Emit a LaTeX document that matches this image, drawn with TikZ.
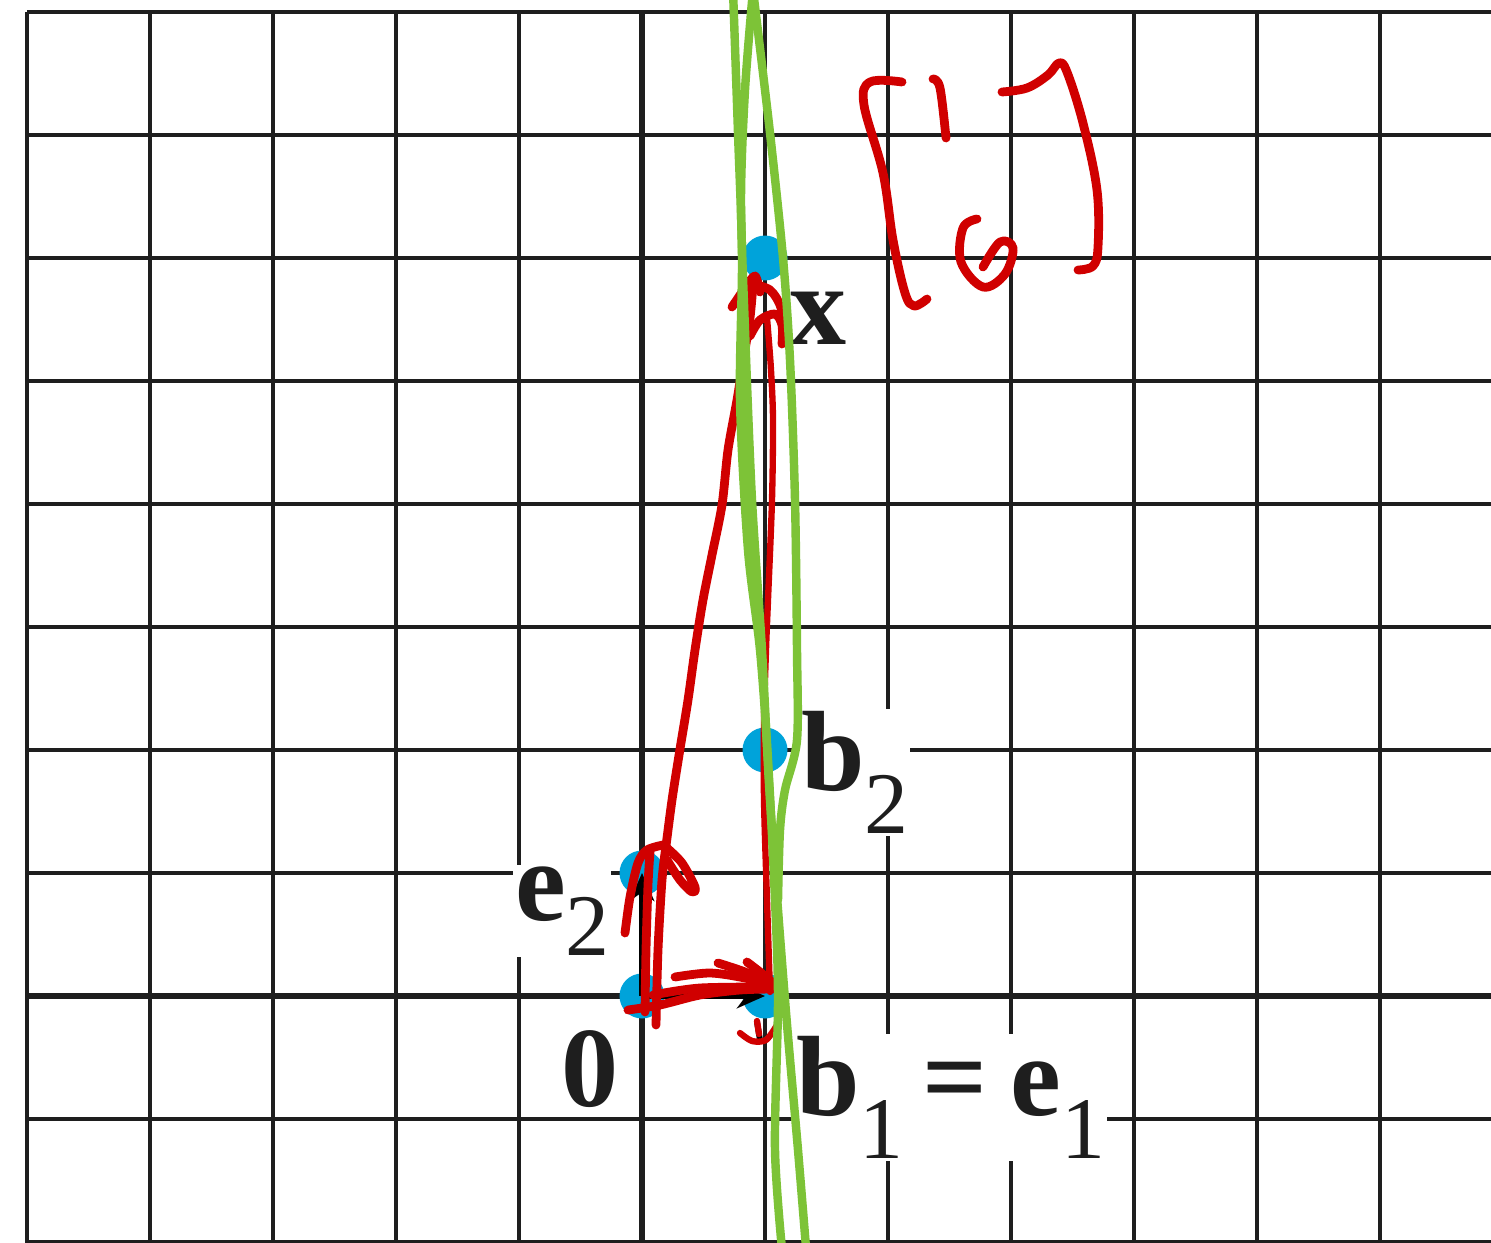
\documentclass[tikz,border=0pt]{standalone}
\usepackage{fontspec}
\setmainfont{Liberation Serif}
\usetikzlibrary{arrows.meta}
\definecolor{inkred}{RGB}{208,0,0}
\definecolor{inkgreen}{RGB}{125,195,55}
\definecolor{dotblue}{RGB}{0,163,218}
\definecolor{gridgray}{RGB}{30,30,30}
\newcommand\lblsub{\fontsize{50}{50}\selectfont\mdseries}
\begin{document}
\begin{tikzpicture}[x=0.02cm,y=-0.02cm,
  gridline/.style={draw=gridgray, line width=2.3pt},
  axisline/.style={draw=gridgray, line width=3.8pt},
  lbl/.style={fill=white, inner sep=1pt, text=gridgray, font=\fontsize{65}{65}\selectfont\bfseries},
  dot/.style={circle, fill=dotblue, minimum size=0.9cm, inner sep=0pt},
  vec/.style={draw=black, line width=3.4pt, -{Stealth[length=16pt,width=14pt]}},
  pen/.style={draw=inkred, line width=5pt, line cap=round, line join=round},
  thinpen/.style={draw=inkred, line width=3.6pt, line cap=round, line join=round},
  greenpen/.style={draw=inkgreen, line width=4.8pt, line cap=round, line join=round}]
\useasboundingbox (0,0) rectangle (1491,1243);
\clip (0,0) rectangle (1491,1243);
\fill[white] (0,0) rectangle (1491,1243);
% grid
\foreach \i in {0,...,11} \draw[gridline] (27+123*\i,12) -- (27+123*\i,1250);
\foreach \j in {0,...,10} \draw[gridline] (27,12+123*\j) -- (1500,12+123*\j);
\draw[axisline] (642,12) -- (642,1250);
\draw[axisline] (27,996) -- (1500,996);
% lattice points
\coordinate (O) at (642,996);
\coordinate (E2) at (642,873);
\coordinate (B1) at (765,996);
\coordinate (B2) at (765,750);
\coordinate (X) at (765,258);
% labels
\node[lbl, anchor=base west] (lx) at (787,345) {x};
\node[lbl, anchor=base west] (lb2) at (799,790) {b\raisebox{-25pt}{\lblsub 2}};
\node[lbl, anchor=base west] (le2) at (513,920) {e\raisebox{-20pt}{\lblsub 2}};
\node[lbl, anchor=base west] (lo) at (559,1106) {0};
\node[lbl, anchor=base west] (lb1) at (794,1115) {b\raisebox{-25pt}{\lblsub 1}\hspace{11pt}=\hspace{13pt}e\raisebox{-25pt}{\lblsub 1}};
% dots
\foreach \p in {O,E2,B1,B2,X} \node[dot] at (\p) {};
% printed vectors
\draw[vec] (O) -- (E2);
\draw[vec] (O) -- (B1);
\draw[draw=black, line width=3.4pt, line cap=round] (757,1022) -- (760,1040);
% red handwriting: matrix [1;6]
\draw[pen] plot[smooth, tension=0.6] coordinates {(902,82) (870,82) (864,105) (883,173) (893,240) (905,293) (914,306) (927,299)};
\draw[pen] plot[smooth, tension=0.6] coordinates {(933,79) (940,88) (946,138)};
\draw[pen] plot[smooth, tension=0.6] coordinates {(1002,92) (1027,88) (1048,75) (1059,63) (1067,72) (1083,123) (1097,190) (1098,247) (1093,266) (1078,270)};
\draw[pen] plot[smooth, tension=0.6] coordinates {(977,219) (963,228) (961,262) (983,287) (1005,274) (1013,248) (1000,242) (983,267)};
% red: e2 arrow
\draw[pen] plot[smooth, tension=0.5] coordinates {(645,1012) (646,950) (648,885) (650,852)};
\draw[pen] plot[smooth, tension=0.5] coordinates {(656,1025) (658,950) (662,880) (666,846)};
\draw[pen] plot[smooth, tension=0.5] coordinates {(625,933) (630,897) (638,863) (647,850) (663,845)};
\draw[pen] plot[smooth, tension=0.5] coordinates {(667,848) (682,863) (695,887) (692,892) (680,880) (667,860)};
% red: e1 arrow
\draw[pen] plot[smooth, tension=0.5] coordinates {(628,1010) (660,1005) (700,995) (740,990) (773,989)};
\draw[pen] plot[smooth, tension=0.5] coordinates {(653,995) (700,988) (773,987)};
\draw[pen] plot[smooth, tension=0.5] coordinates {(675,977) (710,973) (745,978) (773,985)};
\draw[pen] plot[smooth, tension=0.5] coordinates {(718,963) (745,972) (773,985)};
\draw[pen] plot[smooth, tension=0.5] coordinates {(747,962) (760,972) (773,983)};
\draw[thinpen] plot[smooth, tension=0.5] coordinates {(740,1033) (752,1041) (766,1040) (777,1025)};
\draw[thinpen] (757,1021) -- (759,1034);
% red: long curve from 0 to x
\draw[pen] plot[smooth, tension=0.5] coordinates {(666,846) (672,800) (680,749) (688,700) (695,650) (703,600) (712,555) (722,505) (728,450) (737,400) (745,350) (750,318) (753,285)};
\draw[pen] plot[smooth, tension=0.5] coordinates {(732,307) (745,288) (755,276) (760,292)};
\draw[pen] plot[smooth, tension=0.5] coordinates {(752,284) (770,290) (781,308) (783,338)};
% red: b1 to x
\draw[thinpen] plot[smooth, tension=0.5] coordinates {(770,992) (767,900) (764,800) (764,720) (766,650) (768,600) (772,500) (773,420) (771,370) (768,330) (767,318)};
\draw[pen] plot[smooth, tension=0.5] coordinates {(750,336) (760,320) (775,314) (782,325) (782,344)};
% green strokes
\draw[greenpen] plot[smooth, tension=0.5] coordinates {(733,-10) (738,133) (742,258) (740,400) (748,550) (760,650) (768,760) (775,900) (778,1000) (775,1150) (783,1260)};
\draw[greenpen] plot[smooth, tension=0.5] coordinates {(753,-10) (745,90) (741,200) (745,330) (752,500) (762,650) (770,800) (785,1000) (798,1150) (807,1260)};
\draw[greenpen] plot[smooth, tension=0.5] coordinates {(753,-10) (770,133) (783,258) (790,360) (795,500) (797,650) (797,740) (785,790) (780,830) (778,900)};
\end{tikzpicture}
\end{document}
